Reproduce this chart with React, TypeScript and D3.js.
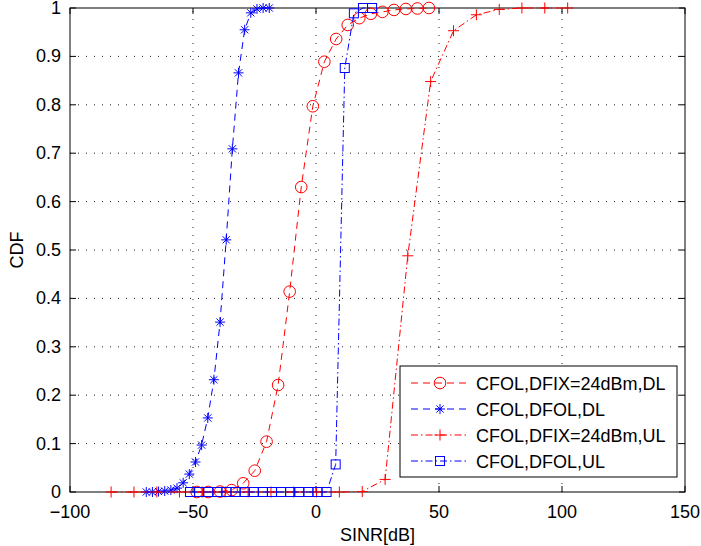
import * as d3 from "d3";

// SINR CDF curves
const dfixDlX = [-48.5, -43.8, -39.0, -34.3, -29.6, -24.9, -20.1, -15.4, -10.7, -6.0, -1.3, 3.4, 8.2, 12.9, 17.6, 22.3, 27.0, 31.7, 36.5, 41.2, 45.9];
const dfixDlY = [0, 0, 0.001, 0.004, 0.018, 0.044, 0.104, 0.221, 0.414, 0.63, 0.797, 0.889, 0.936, 0.965, 0.979, 0.988, 0.992, 0.996, 0.998, 0.999, 1];

const dfolDlX = [-69, -66.5, -64, -61.5, -59, -56.5, -54, -51.5, -49, -46.5, -44, -41.5, -39, -36.5, -34, -31.5, -29, -26.5, -24, -21.5, -19];
const dfolDlY = [0, 0, 0.001, 0.002, 0.004, 0.008, 0.019, 0.037, 0.062, 0.097, 0.153, 0.232, 0.351, 0.521, 0.709, 0.866, 0.955, 0.99, 0.998, 1, 1];

const dfixUlX = [-83.3, -74.0, -64.7, -55.5, -46.2, -36.9, -27.6, -18.3, -9.1, 0.2, 9.5, 18.8, 28.1, 37.3, 46.6, 55.9, 65.2, 74.5, 83.7, 93.0, 102.3];
const dfixUlY = [0, 0, 0, 0, 0, 0, 0, 0, 0, 0, 0, 0.001, 0.026, 0.488, 0.848, 0.953, 0.986, 0.997, 1, 1, 1];

const dfolUlX = [-51.2, -47.5, -43.8, -40.1, -36.4, -32.7, -29.0, -25.3, -21.6, -17.9, -14.2, -10.5, -6.8, -3.1, 0.6, 4.3, 8.0, 11.7, 15.4, 19.1, 22.8];
const dfolUlY = [0, 0, 0, 0, 0, 0, 0, 0, 0, 0, 0, 0, 0, 0, 0, 0, 0.057, 0.876, 0.989, 1, 1];

const legendLabels = ["CFOL,DFIX=24dBm,DL", "CFOL,DFOL,DL", "CFOL,DFIX=24dBm,UL", "CFOL,DFOL,UL"];

const xTicks = [-100, -50, 0, 50, 100, 150];
const yTicks = [0, 0.1, 0.2, 0.3, 0.4, 0.5, 0.6, 0.7, 0.8, 0.9, 1];

const W = 701;
const H = 546;
const M = { left: 70, right: 16, top: 8, bottom: 54 };
const FONT = "'Liberation Sans', Arial, Helvetica, sans-serif";

const DASH = "7,5";
const DASHDOT = "7,3,1.5,3";

type Marker = "circle" | "star" | "plus" | "square";

const series = [
  { xs: dfixDlX, ys: dfixDlY, color: "#ff0000", dash: DASH, marker: "circle" as Marker },
  { xs: dfolDlX, ys: dfolDlY, color: "#0000ff", dash: DASH, marker: "star" as Marker },
  { xs: dfixUlX, ys: dfixUlY, color: "#ff0000", dash: DASHDOT, marker: "plus" as Marker },
  { xs: dfolUlX, ys: dfolUlY, color: "#0000ff", dash: DASHDOT, marker: "square" as Marker },
];

function MarkerShape({ kind, x, y, color }: { kind: Marker; x: number; y: number; color: string }) {
  const common = { stroke: color, strokeWidth: 1, fill: "none" };
  if (kind === "circle") return <circle cx={x} cy={y} r={5.8} {...common} />;
  if (kind === "square") return <rect x={x - 4.5} y={y - 4.5} width={9} height={9} {...common} />;
  if (kind === "plus") {
    const s = 5.5;
    return <path d={`M${x - s},${y}H${x + s}M${x},${y - s}V${y + s}`} {...common} />;
  }
  const s = 5;
  const d = s * 0.72;
  return (
    <path
      d={`M${x - s},${y}H${x + s}M${x},${y - s}V${y + s}M${x - d},${y - d}L${x + d},${y + d}M${x - d},${y + d}L${x + d},${y - d}`}
      {...common}
    />
  );
}

export default function App() {
  const x = d3.scaleLinear().domain([-100, 150]).range([M.left, W - M.right]);
  const y = d3.scaleLinear().domain([0, 1]).range([H - M.bottom, M.top]);
  const [x0, x1] = x.range();
  const [y0, y1] = y.range();

  const line = d3
    .line<[number, number]>()
    .x((d) => x(d[0]))
    .y((d) => y(d[1]));

  const fmtX = (v: number) => (v < 0 ? "\u2212" + Math.abs(v) : String(v));
  const fmtY = (v: number) => (v === 0 ? "0" : v === 1 ? "1" : d3.format(".1f")(v));

  const legX = 400;
  const legY = 366;
  const legW = 277;
  const legH = 111;
  const rowH = 26;

  return (
    <svg width={W} height={H} style={{ position: "absolute", left: 0, top: 0, background: "#fff" }} fontFamily={FONT}>
      <rect width={W} height={H} fill="#fff" />

      {/* grid */}
      <g stroke="#222" strokeWidth={1} strokeDasharray="1,7">
        {xTicks.slice(1, -1).map((t) => (
          <line key={`gx${t}`} x1={x(t)} x2={x(t)} y1={y0} y2={y1} />
        ))}
        {yTicks.slice(1, -1).map((t) => (
          <line key={`gy${t}`} x1={x0} x2={x1} y1={y(t)} y2={y(t)} />
        ))}
      </g>

      {/* ticks */}
      <g stroke="#000" strokeWidth={1}>
        {xTicks.map((t) => (
          <g key={`tx${t}`}>
            <line x1={x(t)} x2={x(t)} y1={y0} y2={y0 - 6} />
            <line x1={x(t)} x2={x(t)} y1={y1} y2={y1 + 6} />
          </g>
        ))}
        {yTicks.map((t) => (
          <g key={`ty${t}`}>
            <line x1={x0} x2={x0 + 6} y1={y(t)} y2={y(t)} />
            <line x1={x1} x2={x1 - 6} y1={y(t)} y2={y(t)} />
          </g>
        ))}
      </g>

      <rect x={x0} y={y1} width={x1 - x0} height={y0 - y1} fill="none" stroke="#000" strokeWidth={1} />

      {/* curves */}
      {series.map((s, i) => {
        const pts = s.xs.map((v, j) => [v, s.ys[j]] as [number, number]);
        return (
          <g key={`s${i}`}>
            <path d={line(pts) ?? ""} fill="none" stroke={s.color} strokeWidth={1} strokeDasharray={s.dash} />
            {pts.map((p, j) => (
              <MarkerShape key={j} kind={s.marker} x={x(p[0])} y={y(p[1])} color={s.color} />
            ))}
          </g>
        );
      })}

      {/* tick labels */}
      <g fontSize={18} fill="#000">
        {xTicks.map((t) => (
          <text key={`lx${t}`} x={x(t)} y={y0 + 26} textAnchor="middle">
            {fmtX(t)}
          </text>
        ))}
        {yTicks.map((t) => (
          <text key={`ly${t}`} x={x0 - 9} y={y(t) + 6} textAnchor="end">
            {fmtY(t)}
          </text>
        ))}
      </g>

      <text x={(x0 + x1) / 2} y={H - 5} textAnchor="middle" fontSize={18}>
        SINR[dB]
      </text>
      <text transform={`translate(23,${(y0 + y1) / 2}) rotate(-90)`} textAnchor="middle" fontSize={18}>
        CDF
      </text>

      {/* legend */}
      <rect x={legX} y={legY} width={legW} height={legH} fill="#fff" stroke="#000" strokeWidth={1} />
      {series.map((s, i) => {
        const cy = legY + 17 + i * rowH;
        return (
          <g key={`leg${i}`}>
            <line x1={legX + 11} x2={legX + 68} y1={cy} y2={cy} stroke={s.color} strokeWidth={1} strokeDasharray={s.dash} />
            <MarkerShape kind={s.marker} x={legX + 40} y={cy} color={s.color} />
            <text x={legX + 76} y={cy + 6.5} fontSize={18}>
              {legendLabels[i]}
            </text>
          </g>
        );
      })}
    </svg>
  );
}
